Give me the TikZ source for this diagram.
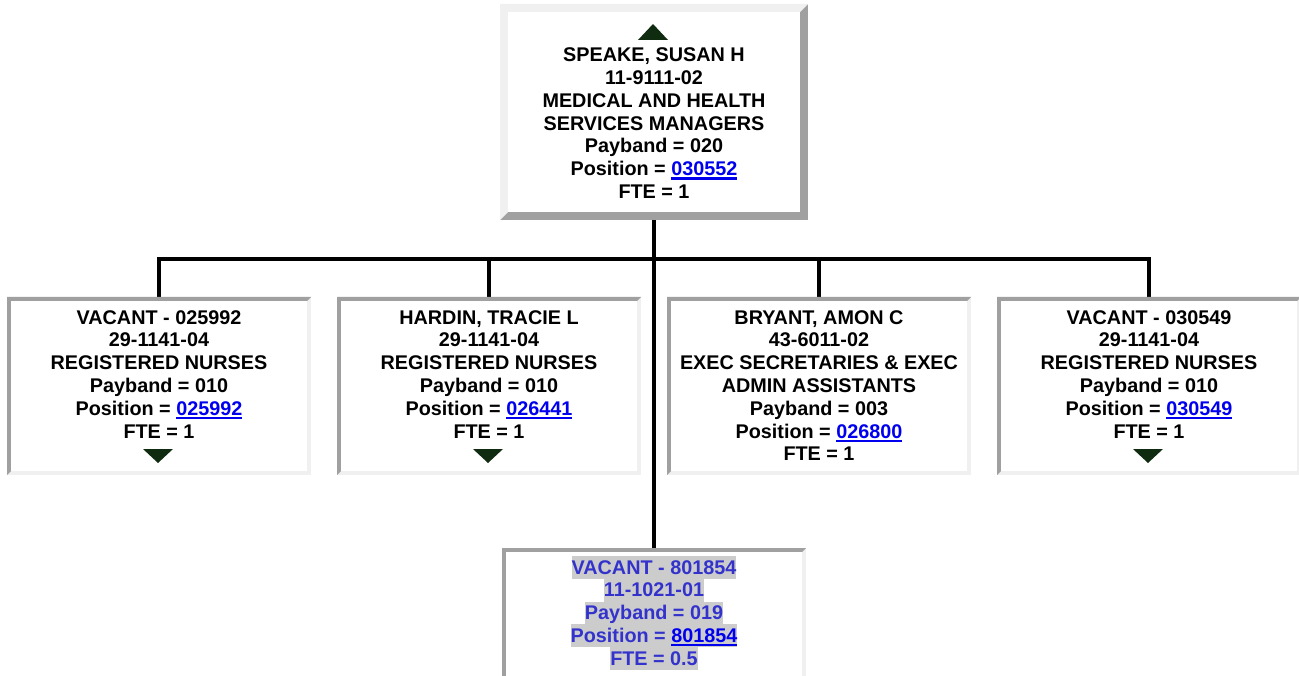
\documentclass[tikz,border=0pt]{standalone}
\usepackage{fontspec}
\setmainfont{Liberation Sans}
\usetikzlibrary{calc}
\definecolor{bdark}{RGB}{160,160,160}
\definecolor{blight}{RGB}{240,240,240}
\definecolor{linkblue}{RGB}{0,0,238}
\definecolor{vacblue}{RGB}{51,51,204}
\definecolor{hlgray}{RGB}{204,204,204}
\definecolor{tricol}{RGB}{16,44,16}
\newcommand\lnk[1]{\sbox0{\color{linkblue}#1}{\color{linkblue}\rlap{\rule[-4pt]{\wd0}{2.4pt}}}\usebox0}
\newcommand\hlt[1]{{\setlength\fboxsep{0pt}\colorbox{hlgray}{\rule[-4.75pt]{0pt}{22.75pt}#1}}}
% x1 y1 x2 y2 border topleft bottomright
\newcommand\bevel[7]{%
  \fill[#7] (#1,#2) rectangle (#3,#4);
  \fill[#6] (#1,#2) -- (#3,#2) -- (#3-#5,#2+#5) -- (#1+#5,#4-#5) -- (#1,#4) -- cycle;
  \fill[white] (#1+#5,#2+#5) rectangle (#3-#5,#4-#5);
}
\tikzset{
  boxnode/.style={draw=none, inner sep=0pt, rectangle},
  conn/.style={draw=black, line width=4.6pt, line join=miter},
  txt/.style={anchor=base, align=center, inner sep=0pt,
    font=\fontsize{19.8pt}{22.8pt}\selectfont\bfseries},
  vactxt/.style={txt, text=vacblue},
  tri/.style={fill=tricol}
}
\begin{document}
\begin{tikzpicture}[x=1pt,y=-1pt]
\begin{scope}
\clip (0,0) rectangle (1299,676);
\fill[white] (0,0) rectangle (1299,676);
% box nodes
\node[boxnode, minimum width=308pt, minimum height=216pt] (top) at (654,112) {};
\node[boxnode, minimum width=304pt, minimum height=178pt] (v1) at (159,386) {};
\node[boxnode, minimum width=304pt, minimum height=178pt] (v2) at (489,386) {};
\node[boxnode, minimum width=304pt, minimum height=178pt] (v3) at (819,386) {};
\node[boxnode, minimum width=304pt, minimum height=178pt] (v4) at (1149,386) {};
\node[boxnode, minimum width=304pt, minimum height=176pt] (v5) at (654,636) {};
\coordinate (bus) at (654,259);
% connectors
\draw[conn] (v1.north) |- (bus) -| (v4.north);
\draw[conn] (top.south) -- (v5.north);
\draw[conn] (v2.north) -- (v2.north |- bus);
\draw[conn] (v3.north) -- (v3.north |- bus);
% borders
\bevel{500}{4}{808}{220}{8}{blight}{bdark}
\bevel{7}{297}{311}{475}{4}{bdark}{blight}
\bevel{337}{297}{641}{475}{4}{bdark}{blight}
\bevel{667}{297}{971}{475}{4}{bdark}{blight}
\bevel{997}{297}{1301}{475}{4}{bdark}{blight}
\bevel{502}{548}{806}{724}{4}{bdark}{blight}
% triangles
\fill[tri] (638,40) -- (668,40) -- (653,24) -- cycle;
\fill[tri] (143,449) -- (173,449) -- (158,463) -- cycle;
\fill[tri] (473,449) -- (503,449) -- (488,463) -- cycle;
\fill[tri] (1133,449) -- (1163,449) -- (1148,463) -- cycle;
% texts (base anchor = baseline of the last line)
\node[txt] (t0) at (654,198.5) {SPEAKE, SUSAN H\\11-9111-02\\MEDICAL AND HEALTH\\SERVICES MANAGERS\\Payband = 020\\Position = \lnk{030552}\\FTE = 1};
\node[txt] (t1) at (159,438) {VACANT - 025992\\29-1141-04\\REGISTERED NURSES\\Payband = 010\\Position = \lnk{025992}\\FTE = 1};
\node[txt] (t2) at (489,438) {HARDIN, TRACIE L\\29-1141-04\\REGISTERED NURSES\\Payband = 010\\Position = \lnk{026441}\\FTE = 1};
\node[txt] (t3) at (819,460.8) {BRYANT, AMON C\\43-6011-02\\EXEC SECRETARIES \& EXEC\\ADMIN ASSISTANTS\\Payband = 003\\Position = \lnk{026800}\\FTE = 1};
\node[txt] (t4) at (1149,438) {VACANT - 030549\\29-1141-04\\REGISTERED NURSES\\Payband = 010\\Position = \lnk{030549}\\FTE = 1};
\node[vactxt] (t5) at (654,665.2) {\hlt{VACANT - 801854}\\\hlt{11-1021-01}\\\hlt{Payband = 019}\\\hlt{Position = \lnk{801854}}\\\hlt{FTE = 0.5}};
\end{scope}
\pgfresetboundingbox
\useasboundingbox (0,0) rectangle (1299,676);
\end{tikzpicture}
\end{document}
